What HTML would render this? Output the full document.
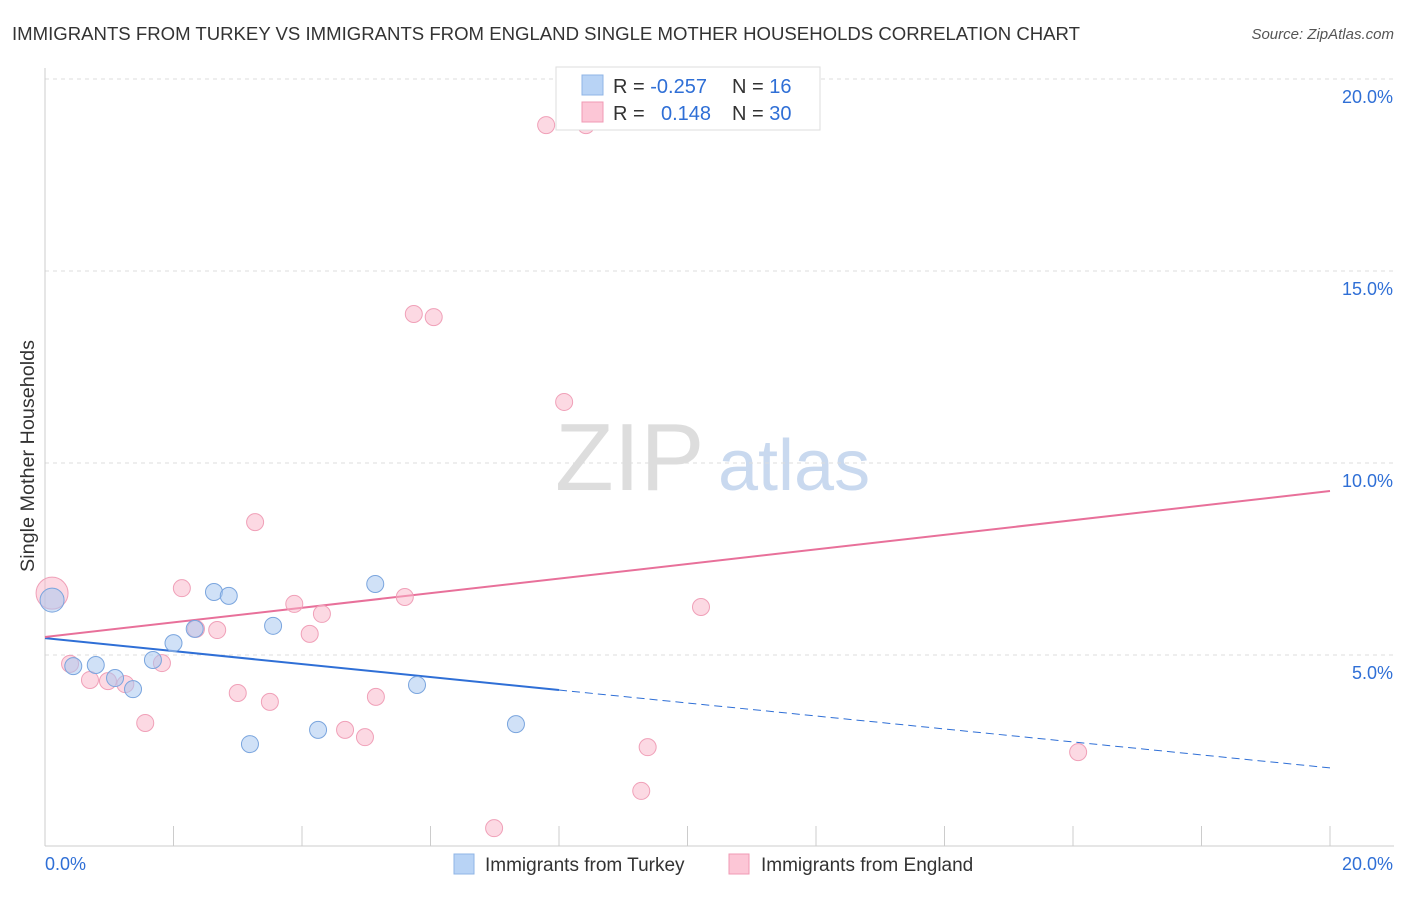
<!DOCTYPE html>
<html><head><meta charset="utf-8"><style>
body{margin:0;background:#fff;font-family:"Liberation Sans",sans-serif;}
svg text{font-family:"Liberation Sans",sans-serif;}
</style></head><body>
<svg id="chart" width="1406" height="892" xmlns="http://www.w3.org/2000/svg">
<text x="12" y="40" font-size="18" fill="#333" textLength="1068" lengthAdjust="spacingAndGlyphs">IMMIGRANTS FROM TURKEY VS IMMIGRANTS FROM ENGLAND SINGLE MOTHER HOUSEHOLDS CORRELATION CHART</text>
<text x="1394" y="39" font-size="15" fill="#555" font-style="italic" text-anchor="end">Source: ZipAtlas.com</text>
<text x="34" y="456" font-size="19" fill="#333" text-anchor="middle" transform="rotate(-90 34 456)" textLength="232" lengthAdjust="spacingAndGlyphs">Single Mother Households</text>
<g><text x="555" y="490" font-size="96" fill="#ddd" font-family="Liberation Serif, serif">ZIP</text><text x="718" y="490" font-size="72" fill="#c9d9ef">atlas</text></g>
<g id="grid"></g><g id="axes"></g><g id="trends"></g><g id="points"></g>
<g>
<rect x="556" y="67" width="264" height="63" fill="#fff" stroke="#ddd"/>
<rect x="582" y="75" width="21" height="20" fill="#b8d3f5" stroke="#8fb4e6"/>
<rect x="582" y="102" width="21" height="20" fill="#fcc6d6" stroke="#f09ab4"/>
<text x="613" y="93" font-size="20" fill="#333">R = <tspan fill="#2f6fd6">-0.257</tspan></text>
<text x="732" y="93" font-size="20" fill="#333">N = <tspan fill="#2f6fd6"> 16</tspan></text>
<text x="613" y="120" font-size="20" fill="#333">R = <tspan fill="#2f6fd6" x="661">0.148</tspan></text>
<text x="732" y="120" font-size="20" fill="#333">N = <tspan fill="#2f6fd6">30</tspan></text>
</g>
<g>
<rect x="454" y="854" width="20" height="20" fill="#b8d3f5" stroke="#8fb4e6"/>
<text x="485" y="871" font-size="19" fill="#333">Immigrants from Turkey</text>
<rect x="729" y="854" width="20" height="20" fill="#fcc6d6" stroke="#f09ab4"/>
<text x="761" y="871" font-size="19" fill="#333">Immigrants from England</text>
</g>
</svg>
<script>
const yTicks=[5,10,15,20];
const turkeyX=[0.11,0.44,0.79,1.09,1.37,1.68,2.0,2.33,2.63,2.86,3.19,3.55,4.25,5.14,5.79,7.33];
const turkeyY=[6.43,4.71,4.74,4.40,4.11,4.87,5.31,5.68,6.64,6.54,2.68,5.76,3.05,6.85,4.22,3.20];
const englandX=[0.11,0.39,0.70,0.98,1.25,1.56,1.82,2.13,2.35,2.68,3.0,3.27,3.50,3.88,4.12,4.31,4.67,4.98,5.15,5.60,5.74,6.05,6.99,7.80,8.08,8.42,9.28,9.38,10.21,16.08];
const englandY=[6.61,4.77,4.35,4.32,4.24,3.23,4.79,6.74,5.68,5.65,4.01,8.46,3.78,6.33,5.55,6.07,3.05,2.86,3.91,6.51,13.88,13.80,0.49,18.80,11.59,18.80,1.46,2.60,6.25,2.47];
const turkeyTrend=[5.44,2.06];
const englandTrend=[5.47,9.27];
const NS="http://www.w3.org/2000/svg";
const sx=v=>45+v*64.25, sy=v=>847-v*38.4;
function mk(t,a,p){const e=document.createElementNS(NS,t);for(const k in a)e.setAttribute(k,a[k]);document.getElementById(p).appendChild(e);return e;}
yTicks.forEach(t=>{
 const g=mk('line',{x1:45,x2:1394,y1:sy(t),y2:sy(t),stroke:'#ddd','stroke-dasharray':'4,4'},'grid');
 
 
 const l=mk('text',{x:1393,y:sy(t)+24,'font-size':18,fill:'#2f6fd6','text-anchor':'end'},'grid');
 l.textContent=t.toFixed(1)+'%';
 
 
});
mk('line',{x1:45,x2:45,y1:68,y2:846,stroke:'#ccc'},'axes');
mk('line',{x1:45,x2:1394,y1:846,y2:846,stroke:'#ccc'},'axes');
for(let i=0;i<=10;i++){const t=mk('line',{x1:sx(i*2),x2:sx(i*2),y1:826,y2:846,stroke:'#ccc'},'axes');}
const x0=mk('text',{x:45,y:870,'font-size':18,fill:'#2f6fd6'},'axes');x0.textContent='0.0%';

const x1=mk('text',{x:1393,y:870,'font-size':18,fill:'#2f6fd6','text-anchor':'end'},'axes');x1.textContent='20.0%';

const bt=v=>turkeyTrend[0]+(turkeyTrend[1]-turkeyTrend[0])*v/20;
const pt=v=>englandTrend[0]+(englandTrend[1]-englandTrend[0])*v/20;
let e=mk('line',{x1:sx(0),y1:sy(bt(0)),x2:sx(8),y2:sy(bt(8)),stroke:'#2f6fd6','stroke-width':2},'trends');

e=mk('line',{x1:sx(8),y1:sy(bt(8)),x2:sx(20),y2:sy(bt(20)),stroke:'#2f6fd6','stroke-width':1,'stroke-dasharray':'8,5'},'trends');

e=mk('line',{x1:sx(0),y1:sy(pt(0)),x2:sx(20),y2:sy(pt(20)),stroke:'#e8709a','stroke-width':2},'trends');

englandX.forEach((x,i)=>{const c=mk('circle',{cx:sx(x),cy:sy(englandY[i]),r:i==0?16:8.5,fill:'rgba(250,180,200,0.5)',stroke:'#f0a0b8','stroke-width':1},'points');
 });
turkeyX.forEach((x,i)=>{const c=mk('circle',{cx:sx(x),cy:sy(turkeyY[i]),r:i==0?12:8.5,fill:'rgba(170,200,240,0.55)',stroke:'#7aa5de','stroke-width':1},'points');
 });
</script>
</body></html>
